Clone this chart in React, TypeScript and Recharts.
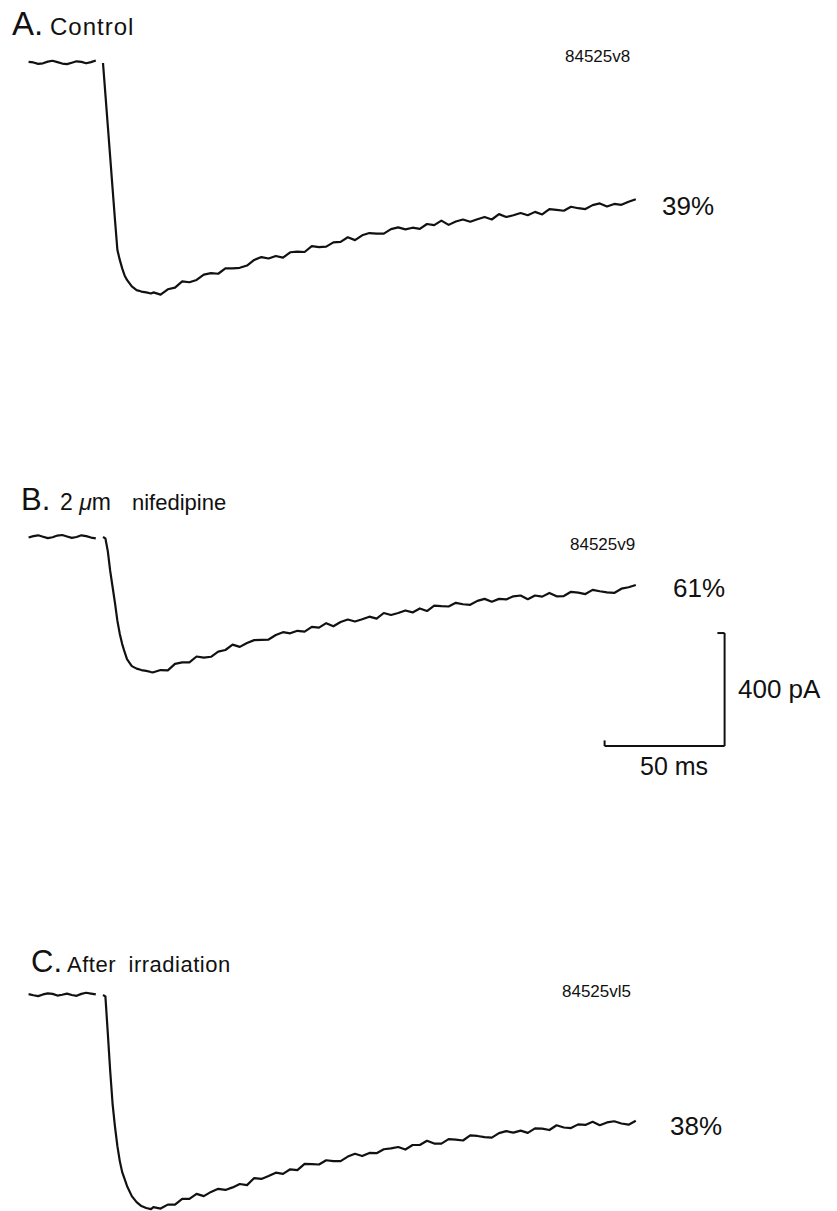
import React from "react";
import { LineChart, Line, XAxis, YAxis, ReferenceLine } from "recharts";

// shared time base (ms), t = 0 is the onset of the step; null row = blanked transient
const TIME_MS = [
  -31, -29, -27, -25, -23, -21, -19, -17, -15, -13, -11, -9, -7, -5, -3,
  -1.5,
  0, 1, 2, 3, 4, 5, 6, 7, 8, 9, 10, 12, 14, 16, 18, 20,
  21, 24, 27, 30, 33, 36, 39, 42, 45, 48, 51, 54, 57, 60, 63, 66, 69, 72, 75, 78,
  81, 84, 87, 90, 93, 96, 99, 102, 105, 108, 111, 114, 117, 120, 123, 126, 129, 132,
  135, 138, 141, 144, 147, 150, 153, 156, 159, 162, 165, 168, 171, 174, 177, 180,
  183, 186, 189, 192, 195, 198, 201, 204, 207, 210, 213, 216, 219, 222,
];

// current relative to holding level, pA
const CONTROL_PA = [
  4, 2, -3, -1, 5, 8, 3, -2, -4, 1, 6, 4, -1, 3, 9,
  null,
  0, -111, -222, -333, -445, -556, -662, -697, -727, -752, -768, -791, -804, -809, -812, -816,
  -812, -820, -801, -795, -773, -776, -768, -749, -744, -746, -727, -727, -725, -717, -697, -687,
  -692, -683, -689, -670, -668, -669, -648, -652, -650, -635, -633, -617, -627, -610, -602, -604,
  -604, -588, -582, -589, -583, -587, -570, -574, -558, -573, -561, -554, -562, -553, -545, -554,
  -535, -545, -539, -531, -539, -527, -536, -517, -520, -523, -509, -514, -517, -503, -497, -508,
  -499, -502, -491, -482,
];

const NIFEDIPINE_PA = [
  -2, 3, 6, 1, -4, -1, 5, 7, 2, -3, 0, 6, 3, -2, -5,
  null,
  0, -5, -50, -120, -177, -234, -297, -343, -379, -407, -432, -457, -466, -471, -474, -478,
  -479, -471, -472, -449, -444, -444, -423, -427, -424, -406, -400, -381, -389, -375, -365, -364,
  -363, -347, -337, -341, -332, -335, -318, -321, -305, -316, -301, -292, -299, -291, -282, -289,
  -269, -276, -269, -260, -267, -253, -262, -243, -245, -246, -233, -238, -240, -226, -219, -229,
  -219, -221, -210, -207, -220, -207, -211, -198, -210, -209, -194, -197, -202, -187, -192, -196,
  -198, -183, -178, -170,
];

const IRRADIATED_PA = [
  3, -1, -4, 2, 6, 4, -2, 1, 5, 0, -3, 4, 8, 5, 2,
  null,
  0, -5, -135, -269, -386, -467, -535, -588, -627, -651, -676, -712, -733, -747, -754, -758,
  -751, -756, -742, -742, -722, -722, -704, -712, -697, -686, -690, -681, -669, -673, -648, -651,
  -641, -629, -633, -617, -620, -598, -599, -600, -585, -588, -588, -572, -562, -570, -559, -560,
  -546, -543, -538, -547, -531, -531, -516, -526, -526, -510, -512, -515, -497, -499, -503, -505,
  -489, -482, -487, -480, -488, -472, -473, -478, -461, -469, -471, -458, -460, -449, -461, -451,
  -447, -455, -459, -445,
];

// calibration bar
const SCALE_MS = 50;
const SCALE_PA = 400;
const SCALE_END_MS = 259;
const SCALE_LOW_PA = -740;

const PAGE_W = 837;
const PAGE_H = 1211;
const STEP_X = 103; // page x of t = 0
const PX_PER_MS = 2.4;
const PX_PER_PA = 0.2825;

const FONT = "'Liberation Sans', Arial, sans-serif";

const rows = TIME_MS.map((t, i) => ({
  t,
  a: CONTROL_PA[i],
  b: NIFEDIPINE_PA[i],
  c: IRRADIATED_PA[i],
}));

type PanelProps = {
  top: number;
  height: number;
  baseline: number;
  dataKey: string;
  children?: React.ReactNode;
};

function Panel({ top, height, baseline, dataKey, children }: PanelProps) {
  const xDomain = [-STEP_X / PX_PER_MS, (PAGE_W - STEP_X) / PX_PER_MS];
  const yDomain = [-(top + height - baseline) / PX_PER_PA, (baseline - top) / PX_PER_PA];
  return (
    <div style={{ position: "absolute", left: 0, top, width: PAGE_W, height }}>
      <LineChart width={PAGE_W} height={height} data={rows} margin={{ top: 0, right: 0, bottom: 0, left: 0 }}>
        <XAxis type="number" dataKey="t" domain={xDomain} hide allowDataOverflow />
        <YAxis type="number" domain={yDomain} hide allowDataOverflow />
        <Line
          type="linear"
          dataKey={dataKey}
          stroke="#111"
          strokeWidth={2.2}
          strokeLinejoin="round"
          dot={false}
          activeDot={false}
          connectNulls={false}
          isAnimationActive={false}
        />
        {children}
      </LineChart>
    </div>
  );
}

export default function App() {
  const barStart = SCALE_END_MS - SCALE_MS;
  const barTop = SCALE_LOW_PA + SCALE_PA;
  return (
    <div style={{ position: "absolute", left: 0, top: 0, width: PAGE_W, height: PAGE_H, background: "#fff", overflow: "hidden" }}>
      <Panel top={40} height={280} baseline={63} dataKey="a" />
      <Panel top={515} height={260} baseline={537} dataKey="b">
        <ReferenceLine segment={[{ x: barStart, y: SCALE_LOW_PA }, { x: SCALE_END_MS, y: SCALE_LOW_PA }]} stroke="#111" strokeWidth={2} ifOverflow="visible" />
        <ReferenceLine segment={[{ x: SCALE_END_MS, y: SCALE_LOW_PA }, { x: SCALE_END_MS, y: barTop }]} stroke="#111" strokeWidth={2} ifOverflow="visible" />
        <ReferenceLine segment={[{ x: SCALE_END_MS - 3, y: barTop }, { x: SCALE_END_MS, y: barTop }]} stroke="#111" strokeWidth={2} ifOverflow="visible" />
        <ReferenceLine segment={[{ x: barStart, y: SCALE_LOW_PA }, { x: barStart, y: SCALE_LOW_PA + 20 }]} stroke="#111" strokeWidth={2} ifOverflow="visible" />
      </Panel>
      <Panel top={975} height={236} baseline={995} dataKey="c" />

      <svg width={PAGE_W} height={PAGE_H} style={{ position: "absolute", left: 0, top: 0, pointerEvents: "none" }} fontFamily={FONT} fill="#111">
        <text x={12} y={35} fontSize={33}>A.</text>
        <text x={50} y={35} fontSize={24} letterSpacing={1}>Control</text>
        <text x={565} y={62} fontSize={17}>84525v8</text>
        <text x={662} y={215} fontSize={26}>39%</text>

        <text x={21} y={510} fontSize={31}>B.</text>
        <text x={60} y={510} fontSize={23}>
          2 <tspan fontStyle="italic">μ</tspan>m
        </text>
        <text x={132} y={510} fontSize={22}>nifedipine</text>
        <text x={570} y={550} fontSize={17}>84525v9</text>
        <text x={673} y={597} fontSize={26}>61%</text>
        <text x={738} y={698} fontSize={26}>400 pA</text>
        <text x={640} y={775} fontSize={25}>50 ms</text>

        <text x={31} y={972} fontSize={31}>C.</text>
        <text x={67} y={972} fontSize={22} letterSpacing={0.5} wordSpacing={6}>After irradiation</text>
        <text x={562} y={997} fontSize={17}>84525vl5</text>
        <text x={670} y={1135} fontSize={26}>38%</text>
      </svg>
    </div>
  );
}
